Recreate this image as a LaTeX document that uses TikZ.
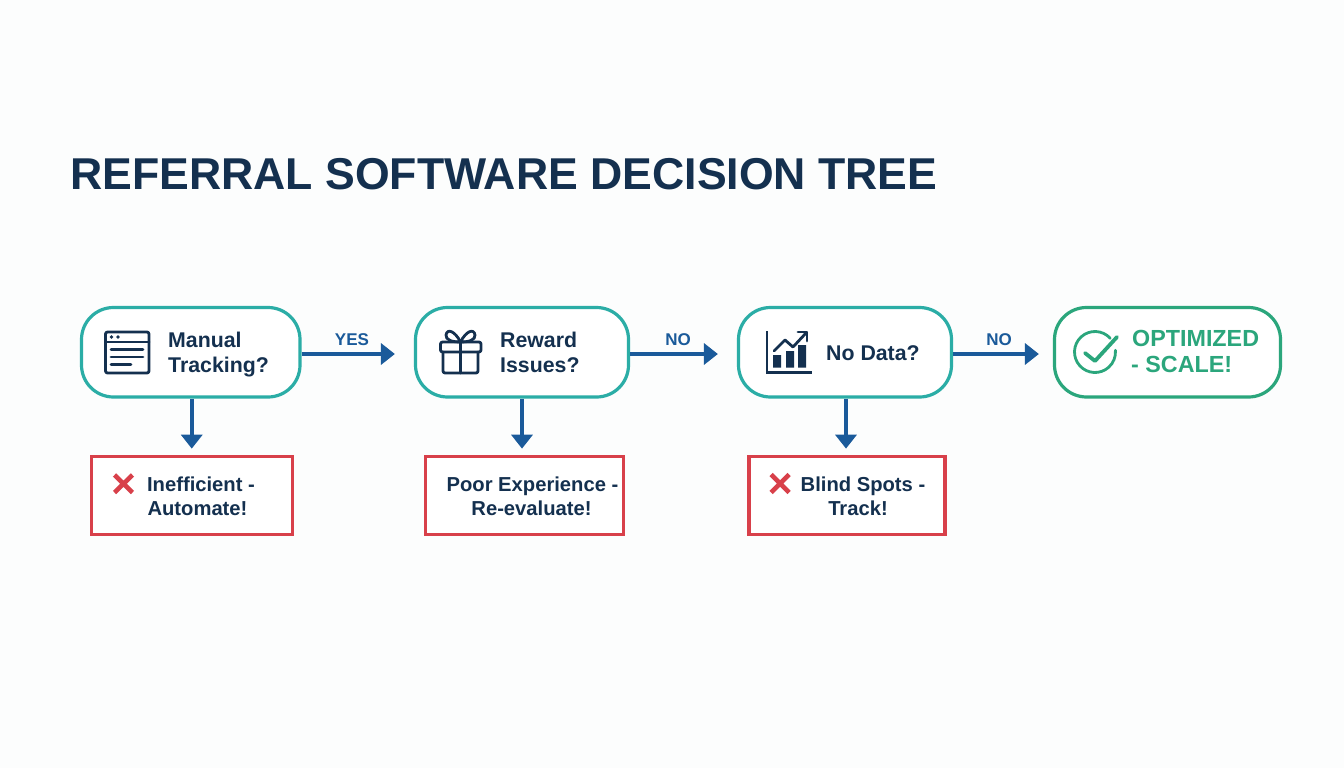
\documentclass[tikz,border=0pt]{standalone}
\usepackage{fontspec}
\setmainfont{Liberation Sans}
\usetikzlibrary{arrows.meta}
\definecolor{navy}{HTML}{14304F}
\definecolor{teal1}{HTML}{2BADA6}
\definecolor{red1}{HTML}{D8404A}
\definecolor{green1}{HTML}{2BA67C}
\definecolor{blue1}{HTML}{1A5A9A}
\definecolor{bg1}{HTML}{FCFDFD}
\tikzset{
  x=1pt,y=-1pt,
  qbox/.style={draw=teal1,line width=3.2pt,rounded corners=32pt,fill=white,minimum height=89.5pt,inner sep=0pt},
  okbox/.style={qbox,draw=green1},
  badbox/.style={draw=red1,line width=3.2pt,fill=white,minimum height=78pt,inner sep=0pt},
  flow/.style={draw=blue1,line width=3.8pt,-{Triangle[length=14pt,width=21pt]}},
  lab/.style={font=\bfseries\fontsize{21.3}{24}\selectfont,text=navy,inner sep=0pt,anchor=base west},
  badlab/.style={font=\bfseries\fontsize{20.2}{24}\selectfont,text=navy,inner sep=0pt,anchor=base},
  oklab/.style={font=\bfseries\fontsize{23.3}{26}\selectfont,text=green1,inner sep=0pt,anchor=base west},
  edgelab/.style={font=\bfseries\fontsize{17}{20}\selectfont,text=blue1,inner sep=0pt,anchor=base},
  ico/.style={draw=navy,line width=2.8pt,line cap=round,line join=round},
  xmark/.style={draw=red1,line width=4.6pt},
}
\begin{document}
\begin{tikzpicture}
\useasboundingbox (0,0) rectangle (1344,768);
\fill[bg1] (0,0) rectangle (1344,768);
\node[font=\bfseries\fontsize{44.6}{54}\selectfont,text=navy,inner sep=0pt,anchor=base west] (title) at (70,189.5) {REFERRAL SOFTWARE DECISION TREE};
% question boxes
\node[qbox,minimum width=218.5pt] (b1) at (190.75,352.25) {};
\node[qbox,minimum width=213pt] (b2) at (522,352.25) {};
\node[qbox,minimum width=213pt] (b3) at (845,352.25) {};
\node[okbox,minimum width=226pt] (b4) at (1167.5,352.25) {};
% outcome boxes
\node[badbox,minimum width=201pt] (r1) at (192,495.25) {};
\node[badbox,minimum width=198pt] (r2) at (524.5,495.25) {};
\node[badbox,minimum width=196pt] (r3) at (847,495.25) {};
% connectors
\draw[flow,shorten >=19pt] ([yshift=-1.75pt]b1.east) -- ([yshift=-1.75pt]b2.west);
\draw[flow,shorten >=19pt] ([yshift=-1.75pt]b2.east) -- ([yshift=-1.75pt]b3.west);
\draw[flow,shorten >=14pt] ([yshift=-1.75pt]b3.east) -- ([yshift=-1.75pt]b4.west);
\draw[flow,shorten >=6pt] ([xshift=1pt]b1.south) -- ([xshift=1pt]b1.south |- r1.north);
\draw[flow,shorten >=6pt] (b2.south) -- (b2.south |- r2.north);
\draw[flow,shorten >=6pt] ([xshift=1pt]b3.south) -- ([xshift=1pt]b3.south |- r3.north);
% edge labels
\node[edgelab] (ey) at (352,345) {YES};
\node[edgelab] (en1) at (678,345) {NO};
\node[edgelab] (en2) at (999,345) {NO};
% question texts
\node[lab] (t1a) at (168,347) {Manual};
\node[lab] (t1b) at (168,372.5) {Tracking?};
\node[lab] (t2a) at (500,347) {Reward};
\node[lab] (t2b) at (500,372.5) {Issues?};
\node[lab] (t3) at (826,360) {No Data?};
\node[oklab] (t4a) at (1132,346.5) {OPTIMIZED};
\node[oklab] (t4b) at (1131,372.5) {- SCALE!};
% outcome texts
\node[badlab] (r1a) at (201,491) {Inefficient -};
\node[badlab] (r1b) at (197.5,515.5) {Automate!};
\node[badlab] (r2a) at (532.5,491) {Poor Experience -};
\node[badlab] (r2b) at (531.5,515.5) {Re-evaluate!};
\node[badlab] (r3a) at (863,491) {Blind Spots -};
\node[badlab] (r3b) at (858,515.5) {Track!};
% X marks
\draw[xmark] (114.5,475) -- (132.5,492.5) (132.5,475) -- (114.5,492.5);
\draw[xmark] (771,474.5) -- (789,492.5) (789,474.5) -- (771,492.5);
% window icon
\draw[ico,rounded corners=2pt] (105.5,332) rectangle (149,373);
\draw[ico] (105.5,342) -- (149,342);
\fill[navy] (111.5,337) circle (1.8) (118,337) circle (1.8);
\draw[ico] (111,349.5) -- (143,349.5) (111,357) -- (143,357) (111,364.5) -- (131,364.5);
% gift icon
\draw[ico,rounded corners=2pt] (443,352) -- (443,373) -- (478,373) -- (478,352);
\draw[ico,rounded corners=2pt] (440.5,342) rectangle (481,352);
\draw[ico] (460.5,342) -- (460.5,373);
\draw[ico] (460.5,342) .. controls (455,331) and (447,328) .. (446,335) .. controls (445.5,340) and (452,342) .. (460.5,342);
\draw[ico] (460.5,342) .. controls (466,331) and (474,328) .. (475,335) .. controls (475.5,340) and (469,342) .. (460.5,342);
% chart icon
\draw[ico,line cap=butt,line join=miter] (767,331) -- (767,372.5) -- (812,372.5);
\fill[navy] (773,355) rectangle (781,367.5) (786,351) rectangle (794,367.5) (798,345) rectangle (806,367.5);
\draw[ico] (774,351) -- (785,340) -- (793,347) -- (806.5,332.5);
\draw[ico] (798,332) -- (807,332) -- (807,341);
% check icon
\draw[draw=green1,line width=2.8pt,line cap=round] (1095,352) ++(-42:20.5) arc[start angle=-42,end angle=-365,radius=20.5];
\draw[draw=green1,line width=3.8pt,line cap=round,line join=round] (1085,353) -- (1095,361) -- (1117,337);
\end{tikzpicture}
\end{document}
